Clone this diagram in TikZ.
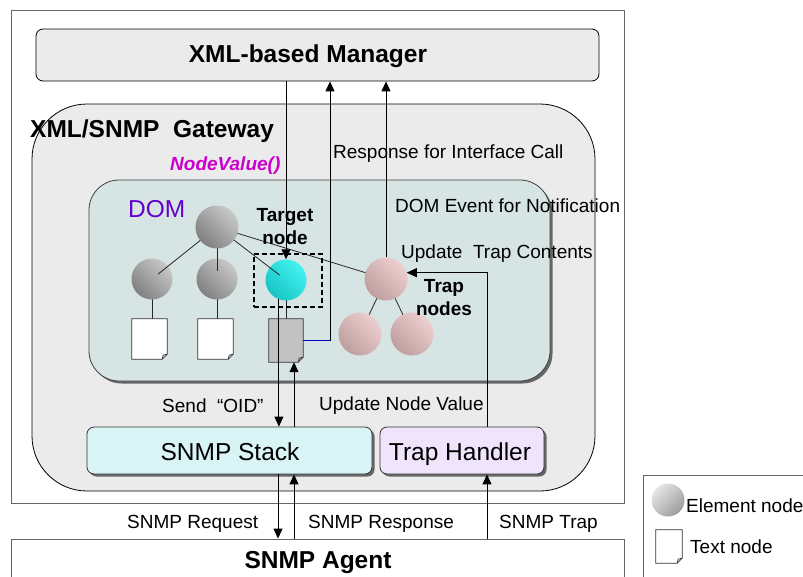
\documentclass[tikz,border=0pt]{standalone}
\usepackage{fontspec}
\setmainfont{Liberation Sans}
\usetikzlibrary{arrows.meta,shadows,calc}

\definecolor{panel}{HTML}{EBEBEB}
\definecolor{domfill}{HTML}{D6E4E4}
\definecolor{stackfill}{HTML}{D8F4F4}
\definecolor{trapfill}{HTML}{EFE4FB}
\definecolor{frame}{HTML}{666666}
\definecolor{fnmag}{HTML}{CC00CC}
\definecolor{dompurple}{HTML}{6600CC}
\definecolor{linkblue}{HTML}{0000C0}
\definecolor{greyhi}{HTML}{C8C8C8}
\definecolor{greylo}{HTML}{808080}
\definecolor{cyanhi}{HTML}{44F2F2}
\definecolor{cyanlo}{HTML}{18C4C4}
\definecolor{pinkhi}{HTML}{EECFCF}
\definecolor{pinklo}{HTML}{BE9E9E}
\definecolor{legendhi}{HTML}{E6E6E6}
\definecolor{legendlo}{HTML}{9C9C9C}
\definecolor{docgrey}{HTML}{C2C2C2}

\pgfdeclarelayer{background}
\pgfdeclarelayer{links}
\pgfsetlayers{background,links,main}

\tikzset{
  big/.style={font=\fontsize{24.5}{28}\selectfont},
  bigbold/.style={font=\fontsize{24.5}{28}\selectfont\bfseries},
  small/.style={font=\fontsize{19}{23}\selectfont},
  smallbold/.style={font=\fontsize{19}{23}\selectfont\bfseries},
  lbl/.style={inner sep=0pt, anchor=base},
  lblw/.style={inner sep=0pt, anchor=base west},
  box/.style={rectangle, inner sep=0pt},
  shadowed/.style={drop shadow={shadow xshift=2.5pt, shadow yshift=-2.5pt, fill=black!60, opacity=1}},
  sphere/.style n args={3}{circle, inner sep=0pt, draw=none,
    top color=#1, bottom color=#2, shading angle=#3},
  link/.style={draw=black, line width=0.9pt},
  arr/.style={-{Triangle[length=10pt,width=9pt]}},
  treeline/.style={draw=black!85, line width=0.8pt},
  bluelink/.style={draw=linkblue, line width=1pt},
  docedge/.style={draw=black!80, line width=0.8pt},
}

% a page with its lower right corner folded
\newcommand\docicon[5]{%
  \node[box, minimum width=#3, minimum height=#4] (#1) at #2 {};
  \draw[docedge, fill=#5] (#1.north west) -- (#1.north east)
    -- ([yshift=5pt]#1.south east) -- ([xshift=-5pt]#1.south east)
    -- (#1.south west) -- cycle;
  \draw[docedge] ([yshift=5pt]#1.south east) -- ([xshift=-4pt,yshift=4pt]#1.south east)
    -- ([xshift=-5pt]#1.south east);
}

\begin{document}
\begin{tikzpicture}[x=1pt,y=-1pt]
\useasboundingbox (0,0) rectangle (803,576);
\clip (0,0) rectangle (803,576);

% ---------- frames and boxes ----------
\begin{pgfonlayer}{background}
  \node[box, draw=frame, line width=0.9pt, minimum width=613pt, minimum height=493pt] (outer) at (317.5,256.5) {};
  \node[box, draw=frame, fill=white, line width=0.9pt, minimum width=613pt, minimum height=70pt] (agent) at (317.5,574) {};
  \node[box, draw=frame, line width=0.9pt, minimum width=200pt, minimum height=125pt] (legend) at (743,537.5) {};
  \node[box, draw=black, fill=panel, line width=0.8pt, rounded corners=55pt,
        minimum width=563pt, minimum height=387pt] (gw) at (313.5,297.5) {};
  \node[box, draw=black, fill=panel, line width=0.8pt, rounded corners=7pt,
        minimum width=563pt, minimum height=52pt] (mgr) at (317.5,55) {};
  \node[box, draw=black!75, fill=domfill, line width=0.8pt, rounded corners=30pt,
        minimum width=461pt, minimum height=201pt, shadowed] (dom) at (319.5,280.5) {};
  \node[box, draw=black!80, fill=stackfill, line width=0.8pt, rounded corners=7pt,
        minimum width=285pt, minimum height=47pt, shadowed] (stack) at (229.5,450.5) {};
  \node[box, draw=black!80, fill=trapfill, line width=0.8pt, rounded corners=7pt,
        minimum width=164pt, minimum height=47pt, shadowed] (th) at (462,450.5) {};
\end{pgfonlayer}

% ---------- DOM tree ----------
\node[sphere={greyhi}{greylo}{-45}, minimum size=41pt] (c1) at (152,279) {};
\node[sphere={greyhi}{greylo}{-45}, minimum size=41pt] (c2) at (217,279) {};
\node[sphere={cyanhi}{cyanlo}{-45}, minimum size=41pt] (tgt) at (286,280) {};
\node[sphere={pinkhi}{pinklo}{-45}, minimum size=43pt] (trapr) at (386,279) {};
\node[sphere={pinkhi}{pinklo}{-45}, minimum size=43pt] (trl) at (360,334) {};
\node[sphere={pinkhi}{pinklo}{-45}, minimum size=43pt] (trr) at (412,334) {};

\draw[treeline, shorten <=21pt, shorten >=8pt] (217,227) -- (c1.center);
\draw[treeline, shorten <=21pt, shorten >=8pt] (217,227) -- (c2.center);
\draw[treeline, shorten <=21pt, shorten >=8pt] (217,227) -- (tgt.center);
\node[sphere={greyhi}{greylo}{-45}, minimum size=43pt] (root) at (217,227) {};

\docicon{d1}{(149.5,339)}{35pt}{40pt}{white}
\docicon{d2}{(215.5,339)}{35pt}{40pt}{white}
\docicon{d3}{(286,340.5)}{34pt}{43pt}{docgrey}

\begin{pgfonlayer}{links}
  \draw[treeline] (root.center) -- (trapr.center);
  \draw[treeline] (trapr.center) -- (trl.center);
  \draw[treeline] (trapr.center) -- (trr.center);
  \draw[treeline] (c1.center) -- (c1 |- d1.north);
  \draw[treeline] (c2.center) -- (c2 |- d2.north);
  \draw[treeline] (tgt.center) -- (tgt |- d3.north);
\end{pgfonlayer}

\node[box, draw=black, dash pattern=on 5pt off 3pt, line width=1.3pt,
      minimum width=68pt, minimum height=53pt] (tgtbox) at (288,280.5) {};

% ---------- legend icons ----------
\node[sphere={legendhi}{legendlo}{45}, minimum size=33pt] (lgsphere) at (668,500) {};
\docicon{lgdoc}{(669,546.5)}{26pt}{33pt}{white}

% ---------- connectors ----------
\coordinate (xq) at (278,0);
\coordinate (xr) at (294,0);
\coordinate (xt) at (487,0);
\coordinate (resp) at (330,340.5);

\draw[link, arr] (tgt.north |- mgr.south) -- (tgt.north);
\draw[bluelink] (d3.east) -- (resp);
\draw[link, arr] (resp) -- (resp |- mgr.south);
\draw[link, arr] (trapr.north) -- (trapr.north |- mgr.south);

\draw[link, arr] (tgt.250) -- (tgt.250 |- stack.north);
\draw[link, arr] (xr |- stack.north) -- (xr |- d3.south);
\draw[link, arr] (xt |- th.north) |- (trapr.17);

\draw[link, arr] (xq |- stack.south) -- (xq |- agent.north);
\draw[link, arr] (xr |- agent.north) -- (xr |- stack.south);
\draw[link, arr] (xt |- agent.north) -- (xt |- th.south);

% ---------- texts ----------
\node[lbl, bigbold] (lmgr) at (308,62) {XML-based Manager};
\node[lblw, bigbold] (lgw) at (30,137) {XML/SNMP~~Gateway};
\node[lblw, smallbold, text=fnmag] (lfn) at (170,170) {\itshape NodeValue()};
\node[lblw, small] (lresp) at (333,158) {Response for Interface Call};
\node[lblw, big, text=dompurple] (ldom) at (128,217) {DOM};
\node[lblw, small] (levent) at (395,212) {DOM Event for Notification};
\node[lblw, small] (lupd) at (401,258) {Update~~Trap Contents};
\node[lbl, smallbold] (ltgta) at (285,221) {Target};
\node[lbl, smallbold] (ltgtb) at (285,244) {node};
\node[lbl, smallbold] (ltrapa) at (444,292) {Trap};
\node[lbl, smallbold] (ltrapb) at (444,315) {nodes};
\node[lblw, small] (lsend) at (162,412) {Send~~“OID”};
\node[lblw, small] (lupdnode) at (319,410) {Update Node Value};
\node[lbl, big] (lstack) at (230,460) {SNMP Stack};
\node[lbl, big] (lth) at (460,460) {Trap Handler};
\node[lblw, small] (lreq) at (127,528) {SNMP Request};
\node[lblw, small] (lrsp) at (308,528) {SNMP Response};
\node[lblw, small] (ltrap) at (499,528) {SNMP Trap};
\node[lbl, bigbold] (lagent) at (318,568) {SNMP Agent};
\node[lblw, small] (lelem) at (686,512) {Element node};
\node[lblw, small] (ltext) at (690,553) {Text node};
\end{tikzpicture}
\end{document}
